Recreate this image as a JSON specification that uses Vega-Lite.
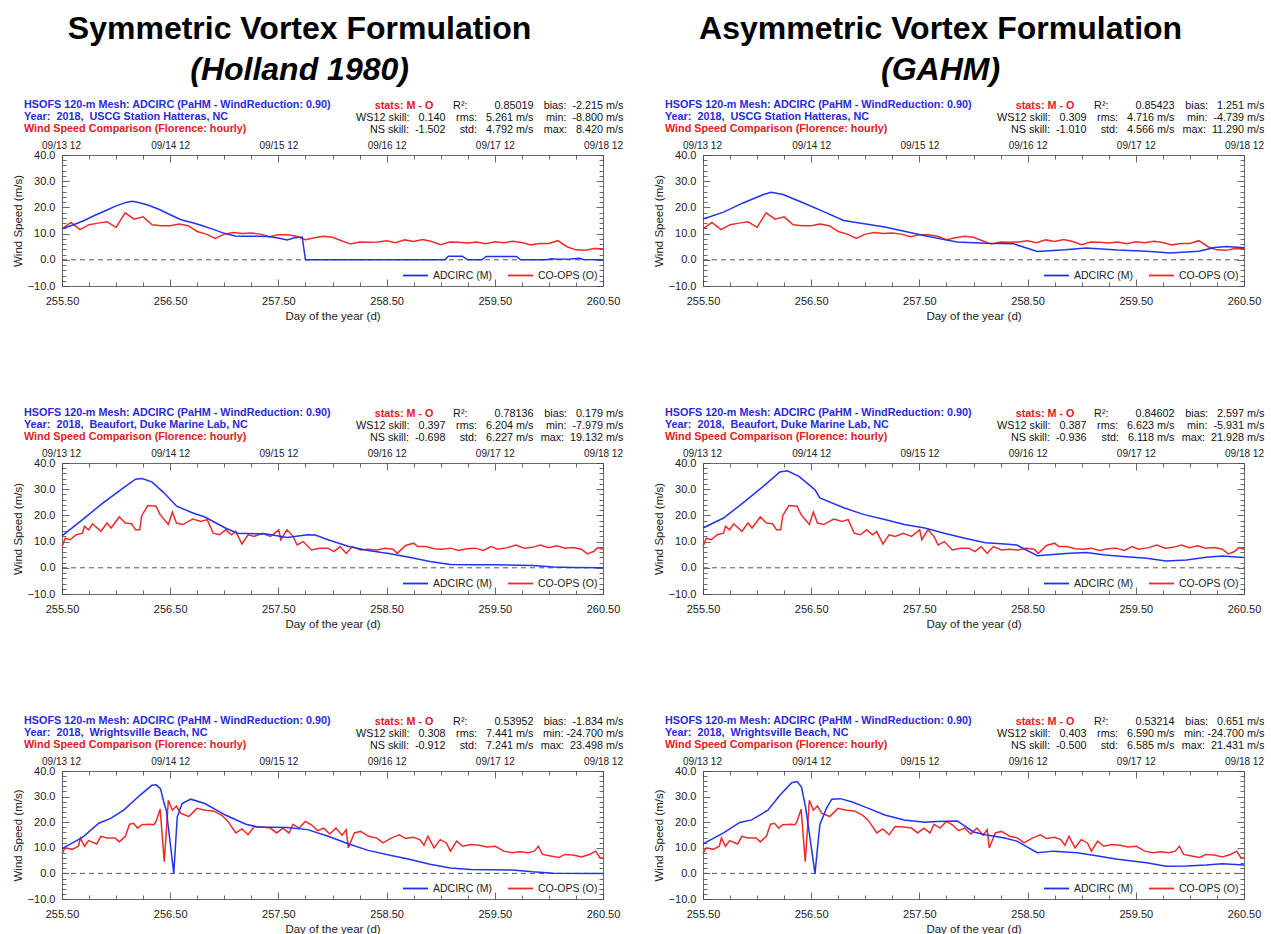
{
  "$schema": "https://vega.github.io/schema/vega-lite/v6.json",
  "padding": {"left": 12, "top": 13, "right": 4, "bottom": 0},
  "background": "white",
  "config": {
    "font": "Liberation Sans",
    "view": {"stroke": null},
    "axis": {"grid": false, "domainColor": "#444", "domainWidth": 0.8, "tickColor": "#444", "tickWidth": 0.8, "labelColor": "#222", "labelFont": "Liberation Sans", "titleFont": "Liberation Sans", "titleColor": "#222", "titleFontWeight": "normal", "labelOverlap": false},
    "title": {"font": "Liberation Sans", "subtitleFont": "Liberation Sans"},
    "legend": {"labelFont": "Liberation Sans"}
  },
  "datasets": {
    "obs_hat": [
      {"day": 255.500, "speed": 11.8}, {"day": 255.583, "speed": 14.3}, {"day": 255.667, "speed": 11.5}, {"day": 255.750, "speed": 13.4}, {"day": 255.833, "speed": 14.0}, {"day": 255.917, "speed": 14.5}, {"day": 256.000, "speed": 12.4}, {"day": 256.083, "speed": 17.9}, {"day": 256.167, "speed": 15.5}, {"day": 256.250, "speed": 16.4}, {"day": 256.333, "speed": 13.4}, {"day": 256.417, "speed": 13.0}, {"day": 256.500, "speed": 13.0}, {"day": 256.583, "speed": 13.7}, {"day": 256.667, "speed": 13.0}, {"day": 256.750, "speed": 10.8}, {"day": 256.833, "speed": 9.8}, {"day": 256.917, "speed": 8.2}, {"day": 257.000, "speed": 9.8}, {"day": 257.083, "speed": 10.4}, {"day": 257.167, "speed": 10.0}, {"day": 257.250, "speed": 10.2}, {"day": 257.333, "speed": 9.8}, {"day": 257.417, "speed": 8.8}, {"day": 257.500, "speed": 9.6}, {"day": 257.583, "speed": 9.6}, {"day": 257.667, "speed": 9.0}, {"day": 257.750, "speed": 7.7}, {"day": 257.833, "speed": 8.4}, {"day": 257.917, "speed": 9.0}, {"day": 258.000, "speed": 8.6}, {"day": 258.083, "speed": 7.3}, {"day": 258.167, "speed": 6.0}, {"day": 258.250, "speed": 6.8}, {"day": 258.333, "speed": 6.7}, {"day": 258.417, "speed": 6.8}, {"day": 258.500, "speed": 7.3}, {"day": 258.583, "speed": 6.5}, {"day": 258.667, "speed": 7.6}, {"day": 258.750, "speed": 7.0}, {"day": 258.833, "speed": 7.7}, {"day": 258.917, "speed": 7.0}, {"day": 259.000, "speed": 5.8}, {"day": 259.083, "speed": 6.8}, {"day": 259.167, "speed": 6.7}, {"day": 259.250, "speed": 6.4}, {"day": 259.333, "speed": 6.8}, {"day": 259.417, "speed": 6.1}, {"day": 259.500, "speed": 6.9}, {"day": 259.583, "speed": 6.5}, {"day": 259.667, "speed": 7.1}, {"day": 259.750, "speed": 6.6}, {"day": 259.833, "speed": 5.7}, {"day": 259.917, "speed": 6.2}, {"day": 260.000, "speed": 6.2}, {"day": 260.083, "speed": 7.3}, {"day": 260.167, "speed": 5.0}, {"day": 260.250, "speed": 3.8}, {"day": 260.333, "speed": 3.6}, {"day": 260.417, "speed": 4.3}, {"day": 260.500, "speed": 4.2}
    ],
    "m_hat_s": [
      {"day": 255.5, "speed": 11.8}, {"day": 255.6, "speed": 13.3}, {"day": 255.7, "speed": 14.9}, {"day": 255.8, "speed": 16.9}, {"day": 255.9, "speed": 18.7}, {"day": 256.0, "speed": 20.6}, {"day": 256.1, "speed": 22.0}, {"day": 256.15, "speed": 22.3}, {"day": 256.2, "speed": 22.0}, {"day": 256.3, "speed": 20.8}, {"day": 256.4, "speed": 19.2}, {"day": 256.5, "speed": 17.2}, {"day": 256.6, "speed": 15.3}, {"day": 256.7, "speed": 14.2}, {"day": 256.8, "speed": 13.0}, {"day": 256.9, "speed": 11.6}, {"day": 257.0, "speed": 10.1}, {"day": 257.1, "speed": 9.1}, {"day": 257.2, "speed": 9.0}, {"day": 257.3, "speed": 9.0}, {"day": 257.4, "speed": 8.9}, {"day": 257.5, "speed": 8.3}, {"day": 257.58, "speed": 7.6}, {"day": 257.65, "speed": 8.4}, {"day": 257.72, "speed": 8.7}, {"day": 257.75, "speed": 0.0}, {"day": 259.04, "speed": 0.0}, {"day": 259.07, "speed": 1.4}, {"day": 259.2, "speed": 1.4}, {"day": 259.25, "speed": 0.0}, {"day": 259.38, "speed": 0.0}, {"day": 259.42, "speed": 1.3}, {"day": 259.7, "speed": 1.3}, {"day": 259.74, "speed": 0.0}, {"day": 259.98, "speed": 0.0}, {"day": 260.02, "speed": 0.4}, {"day": 260.08, "speed": 0.2}, {"day": 260.2, "speed": 0.3}, {"day": 260.28, "speed": 0.6}, {"day": 260.32, "speed": 0.1}, {"day": 260.5, "speed": 0.0}
    ],
    "m_hat_a": [
      {"day": 255.5, "speed": 15.6}, {"day": 255.69, "speed": 18.2}, {"day": 255.87, "speed": 21.7}, {"day": 256.06, "speed": 24.9}, {"day": 256.13, "speed": 25.8}, {"day": 256.24, "speed": 24.9}, {"day": 256.43, "speed": 21.7}, {"day": 256.62, "speed": 18.3}, {"day": 256.8, "speed": 15.0}, {"day": 256.99, "speed": 13.8}, {"day": 257.18, "speed": 12.5}, {"day": 257.36, "speed": 10.9}, {"day": 257.55, "speed": 9.2}, {"day": 257.73, "speed": 7.7}, {"day": 257.85, "speed": 6.8}, {"day": 258.11, "speed": 6.3}, {"day": 258.37, "speed": 6.1}, {"day": 258.59, "speed": 3.2}, {"day": 258.85, "speed": 3.8}, {"day": 259.04, "speed": 4.5}, {"day": 259.33, "speed": 3.7}, {"day": 259.6, "speed": 3.3}, {"day": 259.82, "speed": 2.6}, {"day": 260.08, "speed": 3.3}, {"day": 260.23, "speed": 4.7}, {"day": 260.34, "speed": 5.1}, {"day": 260.5, "speed": 4.6}
    ],
    "obs_beau": [
      {"day": 255.500, "speed": 8.1}, {"day": 255.530, "speed": 11.3}, {"day": 255.576, "speed": 10.7}, {"day": 255.632, "speed": 12.6}, {"day": 255.689, "speed": 13.2}, {"day": 255.708, "speed": 15.8}, {"day": 255.746, "speed": 14.5}, {"day": 255.783, "speed": 16.8}, {"day": 255.859, "speed": 13.9}, {"day": 255.916, "speed": 17.1}, {"day": 255.954, "speed": 15.2}, {"day": 256.029, "speed": 19.4}, {"day": 256.086, "speed": 17.1}, {"day": 256.142, "speed": 16.8}, {"day": 256.180, "speed": 14.5}, {"day": 256.218, "speed": 14.5}, {"day": 256.237, "speed": 19.9}, {"day": 256.294, "speed": 23.8}, {"day": 256.369, "speed": 23.5}, {"day": 256.407, "speed": 20.3}, {"day": 256.483, "speed": 16.5}, {"day": 256.520, "speed": 21.3}, {"day": 256.558, "speed": 17.1}, {"day": 256.615, "speed": 16.5}, {"day": 256.709, "speed": 18.6}, {"day": 256.785, "speed": 17.7}, {"day": 256.842, "speed": 18.4}, {"day": 256.898, "speed": 13.2}, {"day": 256.955, "speed": 12.6}, {"day": 257.012, "speed": 14.5}, {"day": 257.068, "speed": 12.6}, {"day": 257.106, "speed": 13.9}, {"day": 257.163, "speed": 9.1}, {"day": 257.220, "speed": 12.6}, {"day": 257.276, "speed": 12.0}, {"day": 257.352, "speed": 13.2}, {"day": 257.427, "speed": 12.0}, {"day": 257.503, "speed": 14.5}, {"day": 257.522, "speed": 10.7}, {"day": 257.579, "speed": 14.5}, {"day": 257.635, "speed": 12.0}, {"day": 257.673, "speed": 8.7}, {"day": 257.730, "speed": 10.0}, {"day": 257.805, "speed": 6.8}, {"day": 257.881, "speed": 7.5}, {"day": 257.957, "speed": 7.5}, {"day": 258.013, "speed": 6.2}, {"day": 258.070, "speed": 8.1}, {"day": 258.127, "speed": 5.5}, {"day": 258.183, "speed": 8.1}, {"day": 258.259, "speed": 6.8}, {"day": 258.334, "speed": 7.1}, {"day": 258.410, "speed": 6.8}, {"day": 258.486, "speed": 7.5}, {"day": 258.561, "speed": 7.1}, {"day": 258.599, "speed": 5.5}, {"day": 258.675, "speed": 8.5}, {"day": 258.750, "speed": 9.4}, {"day": 258.788, "speed": 8.1}, {"day": 258.864, "speed": 8.1}, {"day": 258.939, "speed": 7.3}, {"day": 259.015, "speed": 7.1}, {"day": 259.090, "speed": 7.5}, {"day": 259.166, "speed": 6.6}, {"day": 259.241, "speed": 7.3}, {"day": 259.317, "speed": 7.5}, {"day": 259.393, "speed": 6.6}, {"day": 259.468, "speed": 8.1}, {"day": 259.525, "speed": 7.1}, {"day": 259.619, "speed": 7.7}, {"day": 259.695, "speed": 8.7}, {"day": 259.771, "speed": 7.5}, {"day": 259.846, "speed": 7.8}, {"day": 259.922, "speed": 8.7}, {"day": 259.997, "speed": 7.7}, {"day": 260.073, "speed": 8.4}, {"day": 260.148, "speed": 7.5}, {"day": 260.224, "speed": 7.7}, {"day": 260.300, "speed": 7.1}, {"day": 260.356, "speed": 5.3}, {"day": 260.413, "speed": 6.2}, {"day": 260.451, "speed": 7.7}, {"day": 260.500, "speed": 7.1}
    ],
    "m_beau_s": [
      {"day": 255.5, "speed": 12.2}, {"day": 255.69, "speed": 18.4}, {"day": 255.88, "speed": 24.8}, {"day": 256.07, "speed": 30.6}, {"day": 256.18, "speed": 33.8}, {"day": 256.24, "speed": 34.1}, {"day": 256.33, "speed": 32.8}, {"day": 256.44, "speed": 28.7}, {"day": 256.56, "speed": 23.5}, {"day": 256.71, "speed": 20.9}, {"day": 256.82, "speed": 19.4}, {"day": 257.01, "speed": 15.2}, {"day": 257.12, "speed": 13.2}, {"day": 257.39, "speed": 12.9}, {"day": 257.58, "speed": 11.6}, {"day": 257.77, "speed": 12.6}, {"day": 257.84, "speed": 12.5}, {"day": 257.96, "speed": 10.7}, {"day": 258.15, "speed": 8.1}, {"day": 258.33, "speed": 6.6}, {"day": 258.52, "speed": 5.5}, {"day": 258.71, "speed": 4.0}, {"day": 258.9, "speed": 2.4}, {"day": 259.09, "speed": 1.3}, {"day": 259.28, "speed": 1.2}, {"day": 259.47, "speed": 1.2}, {"day": 259.85, "speed": 0.9}, {"day": 260.04, "speed": 0.3}, {"day": 260.22, "speed": 0.1}, {"day": 260.5, "speed": 0.0}
    ],
    "m_beau_a": [
      {"day": 255.5, "speed": 15.2}, {"day": 255.69, "speed": 19.0}, {"day": 255.87, "speed": 24.8}, {"day": 256.06, "speed": 31.2}, {"day": 256.21, "speed": 36.6}, {"day": 256.28, "speed": 37.0}, {"day": 256.39, "speed": 34.8}, {"day": 256.5, "speed": 31.0}, {"day": 256.54, "speed": 29.5}, {"day": 256.58, "speed": 26.7}, {"day": 256.8, "speed": 22.9}, {"day": 256.99, "speed": 20.3}, {"day": 257.18, "speed": 18.4}, {"day": 257.36, "speed": 16.5}, {"day": 257.55, "speed": 15.2}, {"day": 257.73, "speed": 13.2}, {"day": 257.92, "speed": 11.3}, {"day": 258.11, "speed": 9.6}, {"day": 258.29, "speed": 9.1}, {"day": 258.4, "speed": 8.7}, {"day": 258.59, "speed": 4.6}, {"day": 258.85, "speed": 5.5}, {"day": 259.04, "speed": 5.8}, {"day": 259.22, "speed": 4.9}, {"day": 259.41, "speed": 4.2}, {"day": 259.6, "speed": 3.6}, {"day": 259.78, "speed": 2.6}, {"day": 259.97, "speed": 3.0}, {"day": 260.15, "speed": 4.0}, {"day": 260.3, "speed": 4.5}, {"day": 260.5, "speed": 3.9}
    ],
    "obs_wri": [
      {"day": 255.500, "speed": 7.8}, {"day": 255.530, "speed": 10.0}, {"day": 255.594, "speed": 9.4}, {"day": 255.651, "speed": 10.6}, {"day": 255.670, "speed": 13.8}, {"day": 255.708, "speed": 10.6}, {"day": 255.746, "speed": 12.8}, {"day": 255.821, "speed": 11.5}, {"day": 255.859, "speed": 14.5}, {"day": 255.916, "speed": 13.8}, {"day": 255.991, "speed": 13.8}, {"day": 256.029, "speed": 12.3}, {"day": 256.086, "speed": 14.5}, {"day": 256.124, "speed": 19.2}, {"day": 256.161, "speed": 19.6}, {"day": 256.199, "speed": 17.7}, {"day": 256.237, "speed": 19.0}, {"day": 256.313, "speed": 19.2}, {"day": 256.350, "speed": 19.0}, {"day": 256.369, "speed": 20.3}, {"day": 256.407, "speed": 25.1}, {"day": 256.445, "speed": 4.6}, {"day": 256.483, "speed": 28.6}, {"day": 256.520, "speed": 24.7}, {"day": 256.558, "speed": 26.3}, {"day": 256.596, "speed": 23.5}, {"day": 256.672, "speed": 22.2}, {"day": 256.747, "speed": 25.4}, {"day": 256.823, "speed": 24.7}, {"day": 256.898, "speed": 24.4}, {"day": 256.974, "speed": 22.8}, {"day": 257.031, "speed": 20.5}, {"day": 257.106, "speed": 15.8}, {"day": 257.163, "speed": 17.4}, {"day": 257.220, "speed": 15.1}, {"day": 257.276, "speed": 18.3}, {"day": 257.352, "speed": 18.1}, {"day": 257.427, "speed": 17.7}, {"day": 257.484, "speed": 15.8}, {"day": 257.541, "speed": 17.7}, {"day": 257.598, "speed": 15.8}, {"day": 257.635, "speed": 19.2}, {"day": 257.692, "speed": 17.7}, {"day": 257.749, "speed": 20.3}, {"day": 257.805, "speed": 19.0}, {"day": 257.862, "speed": 16.7}, {"day": 257.919, "speed": 17.7}, {"day": 257.975, "speed": 15.4}, {"day": 258.032, "speed": 17.7}, {"day": 258.089, "speed": 14.9}, {"day": 258.127, "speed": 17.1}, {"day": 258.146, "speed": 10.0}, {"day": 258.202, "speed": 15.8}, {"day": 258.259, "speed": 16.4}, {"day": 258.334, "speed": 14.5}, {"day": 258.410, "speed": 13.8}, {"day": 258.467, "speed": 11.9}, {"day": 258.542, "speed": 13.8}, {"day": 258.618, "speed": 15.1}, {"day": 258.675, "speed": 13.6}, {"day": 258.750, "speed": 14.1}, {"day": 258.807, "speed": 13.2}, {"day": 258.845, "speed": 11.0}, {"day": 258.882, "speed": 14.5}, {"day": 258.939, "speed": 10.0}, {"day": 258.996, "speed": 13.2}, {"day": 259.053, "speed": 11.9}, {"day": 259.090, "speed": 8.7}, {"day": 259.147, "speed": 12.6}, {"day": 259.204, "speed": 10.6}, {"day": 259.279, "speed": 11.3}, {"day": 259.355, "speed": 11.0}, {"day": 259.430, "speed": 10.3}, {"day": 259.506, "speed": 10.6}, {"day": 259.582, "speed": 8.7}, {"day": 259.657, "speed": 8.1}, {"day": 259.733, "speed": 8.5}, {"day": 259.808, "speed": 8.1}, {"day": 259.865, "speed": 8.7}, {"day": 259.903, "speed": 10.6}, {"day": 259.941, "speed": 7.4}, {"day": 260.016, "speed": 6.8}, {"day": 260.092, "speed": 6.2}, {"day": 260.148, "speed": 7.4}, {"day": 260.224, "speed": 7.2}, {"day": 260.300, "speed": 6.4}, {"day": 260.375, "speed": 7.4}, {"day": 260.432, "speed": 8.7}, {"day": 260.470, "speed": 6.2}, {"day": 260.500, "speed": 5.9}
    ],
    "m_wri_s": [
      {"day": 255.5, "speed": 9.7}, {"day": 255.69, "speed": 14.1}, {"day": 255.84, "speed": 19.6}, {"day": 255.95, "speed": 21.5}, {"day": 256.07, "speed": 24.7}, {"day": 256.22, "speed": 30.5}, {"day": 256.33, "speed": 34.4}, {"day": 256.37, "speed": 34.6}, {"day": 256.41, "speed": 33.1}, {"day": 256.44, "speed": 28.0}, {"day": 256.465, "speed": 24.5}, {"day": 256.533, "speed": 0.0}, {"day": 256.565, "speed": 22.0}, {"day": 256.61, "speed": 27.3}, {"day": 256.69, "speed": 29.0}, {"day": 256.82, "speed": 27.3}, {"day": 257.01, "speed": 22.8}, {"day": 257.2, "speed": 19.2}, {"day": 257.31, "speed": 18.1}, {"day": 257.58, "speed": 17.9}, {"day": 257.77, "speed": 17.1}, {"day": 257.96, "speed": 14.5}, {"day": 258.15, "speed": 11.5}, {"day": 258.33, "speed": 9.0}, {"day": 258.52, "speed": 7.2}, {"day": 258.71, "speed": 5.5}, {"day": 258.9, "speed": 3.6}, {"day": 259.09, "speed": 2.1}, {"day": 259.28, "speed": 1.5}, {"day": 259.66, "speed": 1.3}, {"day": 259.85, "speed": 0.6}, {"day": 260.04, "speed": 0.1}, {"day": 260.5, "speed": 0.0}
    ],
    "m_wri_a": [
      {"day": 255.5, "speed": 11.5}, {"day": 255.69, "speed": 15.8}, {"day": 255.84, "speed": 19.9}, {"day": 255.95, "speed": 20.9}, {"day": 256.1, "speed": 24.7}, {"day": 256.21, "speed": 30.5}, {"day": 256.32, "speed": 35.4}, {"day": 256.37, "speed": 35.9}, {"day": 256.41, "speed": 33.7}, {"day": 256.45, "speed": 25.4}, {"day": 256.535, "speed": 0.0}, {"day": 256.58, "speed": 19.0}, {"day": 256.64, "speed": 25.4}, {"day": 256.69, "speed": 29.0}, {"day": 256.77, "speed": 29.2}, {"day": 256.88, "speed": 27.9}, {"day": 257.03, "speed": 25.4}, {"day": 257.18, "speed": 22.8}, {"day": 257.36, "speed": 20.9}, {"day": 257.55, "speed": 20.0}, {"day": 257.66, "speed": 20.3}, {"day": 257.85, "speed": 20.5}, {"day": 258.0, "speed": 16.2}, {"day": 258.11, "speed": 15.1}, {"day": 258.29, "speed": 13.8}, {"day": 258.4, "speed": 12.6}, {"day": 258.59, "speed": 8.1}, {"day": 258.74, "speed": 8.7}, {"day": 258.96, "speed": 8.1}, {"day": 259.15, "speed": 6.8}, {"day": 259.33, "speed": 5.5}, {"day": 259.6, "speed": 4.2}, {"day": 259.78, "speed": 2.8}, {"day": 259.97, "speed": 2.9}, {"day": 260.15, "speed": 3.3}, {"day": 260.3, "speed": 3.8}, {"day": 260.5, "speed": 3.3}
    ]
  },
  "spacing": 30,
  "resolve": {"scale": {"color": "independent"}, "legend": {"color": "independent"}},
  "hconcat": [
    {
      "title": {"text": "Symmetric Vortex Formulation", "subtitle": "(Holland 1980)", "anchor": "middle", "dx": -18, "fontSize": 32, "subtitleFontSize": 32, "fontWeight": "bold", "subtitleFontWeight": "bold", "subtitleFontStyle": "italic", "color": "#000", "subtitleColor": "#000", "subtitlePadding": 9, "offset": 12},
      "spacing": 85,
      "resolve": {"scale": {"color": "independent"}, "legend": {"color": "independent"}},
      "vconcat": [
        {
          "width": 541, "height": 131,
          "title": {"text": ["HSOFS 120-m Mesh: ADCIRC (PaHM - WindReduction: 0.90)", "Year:\u00a0 2018,\u00a0 USCG Station Hatteras, NC"], "subtitle": "Wind Speed Comparison (Florence: hourly)", "anchor": "start", "frame": "group", "dx": -38, "dy": 35, "offset": 0, "color": "#2a2ad8", "subtitleColor": "#e0201e", "fontSize": 10.8, "subtitleFontSize": 10.8, "fontWeight": "bold", "subtitleFontWeight": "bold", "lineHeight": 12, "subtitleLineHeight": 12, "subtitlePadding": 1},
          "resolve": {"axis": {"x": "independent", "y": "independent"}},
          "layer": [
            {"data": {"values": [{}]}, "mark": {"type": "rule", "strokeDash": [5, 4], "color": "#555", "strokeWidth": 1},
             "encoding": {
               "x": {"datum": 255.5, "type": "quantitative", "scale": {"domain": [255.5, 260.5], "nice": false, "zero": false}, "axis": {"orient": "top", "labels": false, "ticks": false, "domain": false, "title": ["R²:\u00a0\u00a0\u00a0\u00a0\u00a0\u00a0\u00a0\u00a0\u00a00.85019", "rms:\u00a0\u00a0\u00a05.261 m/s", "std:\u00a0\u00a0\u00a04.792 m/s"], "titleX": 471, "titleY": -56, "titleAlign": "right", "titleBaseline": "top", "titleAngle": 0, "titleFontSize": 10.8, "titleLineHeight": 12, "titleColor": "#111"}},
               "x2": {"datum": 260.5},
               "y": {"datum": 0, "type": "quantitative", "scale": {"domain": [-10, 40], "nice": false, "zero": false}, "axis": {"orient": "left", "labels": false, "ticks": false, "domain": false, "title": ["WS12 skill:\u00a0\u00a0\u00a00.140", "NS skill:\u00a0\u00a0-1.502"], "titleX": 383, "titleY": -44, "titleAlign": "right", "titleBaseline": "top", "titleAngle": 0, "titleFontSize": 10.8, "titleLineHeight": 12, "titleColor": "#111"}}
             }},
            {"data": {"name": "obs_hat"}, "mark": {"type": "line", "strokeWidth": 1.5},
             "encoding": {
               "x": {"field": "day", "type": "quantitative", "scale": {"domain": [255.5, 260.5], "nice": false, "zero": false}, "axis": {"orient": "bottom", "values": [255.5,255.75,256,256.25,256.5,256.75,257,257.25,257.5,257.75,258,258.25,258.5,258.75,259,259.25,259.5,259.75,260,260.25,260.5], "labelExpr": "(datum.value - 255.5) % 1 == 0 ? format(datum.value, '.2f') : ''", "tickSize": {"condition": {"test": "(datum.value - 255.5) % 1 == 0", "value": -7}, "value": -4}, "labelPadding": 16, "labelFontSize": 11, "labelFlush": false, "labelAlign": "center", "title": "Day of the year (d)", "titleFontSize": 11.5, "titlePadding": 1}},
               "y": {"field": "speed", "type": "quantitative", "scale": {"domain": [-10, 40], "nice": false, "zero": false}, "axis": {"orient": "left", "values": [-10,-8,-6,-4,-2,0,2,4,6,8,10,12,14,16,18,20,22,24,26,28,30,32,34,36,38,40], "labelExpr": "datum.value % 10 == 0 ? format(datum.value, '.1f') : ''", "tickSize": {"condition": {"test": "datum.value % 10 == 0", "value": -7}, "value": -4}, "labelPadding": 14, "labelFontSize": 11, "labelFlush": false, "title": "Wind Speed (m/s)", "titleFontSize": 11.5, "titlePadding": 4}},
               "color": {"datum": "CO-OPS (O)", "scale": {"domain": ["ADCIRC (M)", "CO-OPS (O)"], "range": ["#2233ee", "#ee2a2a"]}, "legend": {"title": null, "orient": "bottom-right", "direction": "horizontal", "symbolType": "stroke", "symbolSize": 625, "symbolStrokeWidth": 1.8, "labelFontSize": 10.5, "labelColor": "#222", "offset": 5, "padding": 0, "columnPadding": 12, "labelOffset": 4}}
             }},
            {"data": {"name": "m_hat_s"}, "mark": {"type": "line", "strokeWidth": 1.5},
             "encoding": {
               "x": {"field": "day", "type": "quantitative", "scale": {"domain": [255.5, 260.5], "nice": false, "zero": false}, "axis": {"orient": "top", "values": [255.5,255.75,256,256.25,256.5,256.75,257,257.25,257.5,257.75,258,258.25,258.5,258.75,259,259.25,259.5,259.75,260,260.25,260.5], "labelExpr": "(datum.value - 255.5) % 1 == 0 ? '09/' + (13 + round(datum.value - 255.5)) + ' 12' : ''", "tickSize": {"condition": {"test": "(datum.value - 255.5) % 1 == 0", "value": -7}, "value": -4}, "labelPadding": 12, "labelFontSize": 10, "labelFlush": false, "labelAlign": "center", "labelOffset": {"condition": {"test": "datum.value < 255.6", "value": -1}, "value": 0}, "title": ["bias:\u00a0\u00a0-2.215 m/s", "min:\u00a0\u00a0-8.800 m/s", "max:\u00a0\u00a0\u00a08.420 m/s"], "titleX": 561, "titleY": -56, "titleAlign": "right", "titleBaseline": "top", "titleAngle": 0, "titleFontSize": 10.8, "titleLineHeight": 12, "titleColor": "#111"}},
               "y": {"field": "speed", "type": "quantitative", "scale": {"domain": [-10, 40], "nice": false, "zero": false}, "axis": {"orient": "right", "values": [-10,-8,-6,-4,-2,0,2,4,6,8,10,12,14,16,18,20,22,24,26,28,30,32,34,36,38,40], "labels": false, "tickSize": {"condition": {"test": "datum.value % 10 == 0", "value": -7}, "value": -4}, "title": "stats: M - O", "titleX": -170, "titleY": -56, "titleAlign": "right", "titleBaseline": "top", "titleAngle": 0, "titleFontSize": 10.8, "titleFontWeight": "bold", "titleColor": "#e0201e"}},
               "color": {"datum": "ADCIRC (M)", "scale": {"domain": ["ADCIRC (M)", "CO-OPS (O)"], "range": ["#2233ee", "#ee2a2a"]}, "legend": {"title": null, "orient": "bottom-right", "direction": "horizontal", "symbolType": "stroke", "symbolSize": 625, "symbolStrokeWidth": 1.8, "labelFontSize": 10.5, "labelColor": "#222", "offset": 5, "padding": 0, "columnPadding": 12, "labelOffset": 4}}
             }}
          ]
        },
        {
          "width": 541, "height": 131,
          "title": {"text": ["HSOFS 120-m Mesh: ADCIRC (PaHM - WindReduction: 0.90)", "Year:\u00a0 2018,\u00a0 Beaufort, Duke Marine Lab, NC"], "subtitle": "Wind Speed Comparison (Florence: hourly)", "anchor": "start", "frame": "group", "dx": -38, "dy": 35, "offset": 0, "color": "#2a2ad8", "subtitleColor": "#e0201e", "fontSize": 10.8, "subtitleFontSize": 10.8, "fontWeight": "bold", "subtitleFontWeight": "bold", "lineHeight": 12, "subtitleLineHeight": 12, "subtitlePadding": 1},
          "resolve": {"axis": {"x": "independent", "y": "independent"}},
          "layer": [
            {"data": {"values": [{}]}, "mark": {"type": "rule", "strokeDash": [5, 4], "color": "#555", "strokeWidth": 1},
             "encoding": {
               "x": {"datum": 255.5, "type": "quantitative", "scale": {"domain": [255.5, 260.5], "nice": false, "zero": false}, "axis": {"orient": "top", "labels": false, "ticks": false, "domain": false, "title": ["R²:\u00a0\u00a0\u00a0\u00a0\u00a0\u00a0\u00a0\u00a0\u00a00.78136", "rms:\u00a0\u00a0\u00a06.204 m/s", "std:\u00a0\u00a0\u00a06.227 m/s"], "titleX": 471, "titleY": -56, "titleAlign": "right", "titleBaseline": "top", "titleAngle": 0, "titleFontSize": 10.8, "titleLineHeight": 12, "titleColor": "#111"}},
               "x2": {"datum": 260.5},
               "y": {"datum": 0, "type": "quantitative", "scale": {"domain": [-10, 40], "nice": false, "zero": false}, "axis": {"orient": "left", "labels": false, "ticks": false, "domain": false, "title": ["WS12 skill:\u00a0\u00a0\u00a00.397", "NS skill:\u00a0\u00a0-0.698"], "titleX": 383, "titleY": -44, "titleAlign": "right", "titleBaseline": "top", "titleAngle": 0, "titleFontSize": 10.8, "titleLineHeight": 12, "titleColor": "#111"}}
             }},
            {"data": {"name": "obs_beau"}, "mark": {"type": "line", "strokeWidth": 1.5},
             "encoding": {
               "x": {"field": "day", "type": "quantitative", "scale": {"domain": [255.5, 260.5], "nice": false, "zero": false}, "axis": {"orient": "bottom", "values": [255.5,255.75,256,256.25,256.5,256.75,257,257.25,257.5,257.75,258,258.25,258.5,258.75,259,259.25,259.5,259.75,260,260.25,260.5], "labelExpr": "(datum.value - 255.5) % 1 == 0 ? format(datum.value, '.2f') : ''", "tickSize": {"condition": {"test": "(datum.value - 255.5) % 1 == 0", "value": -7}, "value": -4}, "labelPadding": 16, "labelFontSize": 11, "labelFlush": false, "labelAlign": "center", "title": "Day of the year (d)", "titleFontSize": 11.5, "titlePadding": 1}},
               "y": {"field": "speed", "type": "quantitative", "scale": {"domain": [-10, 40], "nice": false, "zero": false}, "axis": {"orient": "left", "values": [-10,-8,-6,-4,-2,0,2,4,6,8,10,12,14,16,18,20,22,24,26,28,30,32,34,36,38,40], "labelExpr": "datum.value % 10 == 0 ? format(datum.value, '.1f') : ''", "tickSize": {"condition": {"test": "datum.value % 10 == 0", "value": -7}, "value": -4}, "labelPadding": 14, "labelFontSize": 11, "labelFlush": false, "title": "Wind Speed (m/s)", "titleFontSize": 11.5, "titlePadding": 4}},
               "color": {"datum": "CO-OPS (O)", "scale": {"domain": ["ADCIRC (M)", "CO-OPS (O)"], "range": ["#2233ee", "#ee2a2a"]}, "legend": {"title": null, "orient": "bottom-right", "direction": "horizontal", "symbolType": "stroke", "symbolSize": 625, "symbolStrokeWidth": 1.8, "labelFontSize": 10.5, "labelColor": "#222", "offset": 5, "padding": 0, "columnPadding": 12, "labelOffset": 4}}
             }},
            {"data": {"name": "m_beau_s"}, "mark": {"type": "line", "strokeWidth": 1.5},
             "encoding": {
               "x": {"field": "day", "type": "quantitative", "scale": {"domain": [255.5, 260.5], "nice": false, "zero": false}, "axis": {"orient": "top", "values": [255.5,255.75,256,256.25,256.5,256.75,257,257.25,257.5,257.75,258,258.25,258.5,258.75,259,259.25,259.5,259.75,260,260.25,260.5], "labelExpr": "(datum.value - 255.5) % 1 == 0 ? '09/' + (13 + round(datum.value - 255.5)) + ' 12' : ''", "tickSize": {"condition": {"test": "(datum.value - 255.5) % 1 == 0", "value": -7}, "value": -4}, "labelPadding": 12, "labelFontSize": 10, "labelFlush": false, "labelAlign": "center", "labelOffset": {"condition": {"test": "datum.value < 255.6", "value": -1}, "value": 0}, "title": ["bias:\u00a0\u00a0\u00a00.179 m/s", "min:\u00a0\u00a0-7.979 m/s", "max:\u00a0\u00a019.132 m/s"], "titleX": 561, "titleY": -56, "titleAlign": "right", "titleBaseline": "top", "titleAngle": 0, "titleFontSize": 10.8, "titleLineHeight": 12, "titleColor": "#111"}},
               "y": {"field": "speed", "type": "quantitative", "scale": {"domain": [-10, 40], "nice": false, "zero": false}, "axis": {"orient": "right", "values": [-10,-8,-6,-4,-2,0,2,4,6,8,10,12,14,16,18,20,22,24,26,28,30,32,34,36,38,40], "labels": false, "tickSize": {"condition": {"test": "datum.value % 10 == 0", "value": -7}, "value": -4}, "title": "stats: M - O", "titleX": -170, "titleY": -56, "titleAlign": "right", "titleBaseline": "top", "titleAngle": 0, "titleFontSize": 10.8, "titleFontWeight": "bold", "titleColor": "#e0201e"}},
               "color": {"datum": "ADCIRC (M)", "scale": {"domain": ["ADCIRC (M)", "CO-OPS (O)"], "range": ["#2233ee", "#ee2a2a"]}, "legend": {"title": null, "orient": "bottom-right", "direction": "horizontal", "symbolType": "stroke", "symbolSize": 625, "symbolStrokeWidth": 1.8, "labelFontSize": 10.5, "labelColor": "#222", "offset": 5, "padding": 0, "columnPadding": 12, "labelOffset": 4}}
             }}
          ]
        },
        {
          "width": 541, "height": 128,
          "title": {"text": ["HSOFS 120-m Mesh: ADCIRC (PaHM - WindReduction: 0.90)", "Year:\u00a0 2018,\u00a0 Wrightsville Beach, NC"], "subtitle": "Wind Speed Comparison (Florence: hourly)", "anchor": "start", "frame": "group", "dx": -38, "dy": 35, "offset": 0, "color": "#2a2ad8", "subtitleColor": "#e0201e", "fontSize": 10.8, "subtitleFontSize": 10.8, "fontWeight": "bold", "subtitleFontWeight": "bold", "lineHeight": 12, "subtitleLineHeight": 12, "subtitlePadding": 1},
          "resolve": {"axis": {"x": "independent", "y": "independent"}},
          "layer": [
            {"data": {"values": [{}]}, "mark": {"type": "rule", "strokeDash": [5, 4], "color": "#555", "strokeWidth": 1},
             "encoding": {
               "x": {"datum": 255.5, "type": "quantitative", "scale": {"domain": [255.5, 260.5], "nice": false, "zero": false}, "axis": {"orient": "top", "labels": false, "ticks": false, "domain": false, "title": ["R²:\u00a0\u00a0\u00a0\u00a0\u00a0\u00a0\u00a0\u00a0\u00a00.53952", "rms:\u00a0\u00a0\u00a07.441 m/s", "std:\u00a0\u00a0\u00a07.241 m/s"], "titleX": 471, "titleY": -56, "titleAlign": "right", "titleBaseline": "top", "titleAngle": 0, "titleFontSize": 10.8, "titleLineHeight": 12, "titleColor": "#111"}},
               "x2": {"datum": 260.5},
               "y": {"datum": 0, "type": "quantitative", "scale": {"domain": [-10, 40], "nice": false, "zero": false}, "axis": {"orient": "left", "labels": false, "ticks": false, "domain": false, "title": ["WS12 skill:\u00a0\u00a0\u00a00.308", "NS skill:\u00a0\u00a0-0.912"], "titleX": 383, "titleY": -44, "titleAlign": "right", "titleBaseline": "top", "titleAngle": 0, "titleFontSize": 10.8, "titleLineHeight": 12, "titleColor": "#111"}}
             }},
            {"data": {"name": "obs_wri"}, "mark": {"type": "line", "strokeWidth": 1.5},
             "encoding": {
               "x": {"field": "day", "type": "quantitative", "scale": {"domain": [255.5, 260.5], "nice": false, "zero": false}, "axis": {"orient": "bottom", "values": [255.5,255.75,256,256.25,256.5,256.75,257,257.25,257.5,257.75,258,258.25,258.5,258.75,259,259.25,259.5,259.75,260,260.25,260.5], "labelExpr": "(datum.value - 255.5) % 1 == 0 ? format(datum.value, '.2f') : ''", "tickSize": {"condition": {"test": "(datum.value - 255.5) % 1 == 0", "value": -7}, "value": -4}, "labelPadding": 16, "labelFontSize": 11, "labelFlush": false, "labelAlign": "center", "title": "Day of the year (d)", "titleFontSize": 11.5, "titlePadding": 1}},
               "y": {"field": "speed", "type": "quantitative", "scale": {"domain": [-10, 40], "nice": false, "zero": false}, "axis": {"orient": "left", "values": [-10,-8,-6,-4,-2,0,2,4,6,8,10,12,14,16,18,20,22,24,26,28,30,32,34,36,38,40], "labelExpr": "datum.value % 10 == 0 ? format(datum.value, '.1f') : ''", "tickSize": {"condition": {"test": "datum.value % 10 == 0", "value": -7}, "value": -4}, "labelPadding": 14, "labelFontSize": 11, "labelFlush": false, "title": "Wind Speed (m/s)", "titleFontSize": 11.5, "titlePadding": 4}},
               "color": {"datum": "CO-OPS (O)", "scale": {"domain": ["ADCIRC (M)", "CO-OPS (O)"], "range": ["#2233ee", "#ee2a2a"]}, "legend": {"title": null, "orient": "bottom-right", "direction": "horizontal", "symbolType": "stroke", "symbolSize": 625, "symbolStrokeWidth": 1.8, "labelFontSize": 10.5, "labelColor": "#222", "offset": 5, "padding": 0, "columnPadding": 12, "labelOffset": 4}}
             }},
            {"data": {"name": "m_wri_s"}, "mark": {"type": "line", "strokeWidth": 1.5},
             "encoding": {
               "x": {"field": "day", "type": "quantitative", "scale": {"domain": [255.5, 260.5], "nice": false, "zero": false}, "axis": {"orient": "top", "values": [255.5,255.75,256,256.25,256.5,256.75,257,257.25,257.5,257.75,258,258.25,258.5,258.75,259,259.25,259.5,259.75,260,260.25,260.5], "labelExpr": "(datum.value - 255.5) % 1 == 0 ? '09/' + (13 + round(datum.value - 255.5)) + ' 12' : ''", "tickSize": {"condition": {"test": "(datum.value - 255.5) % 1 == 0", "value": -7}, "value": -4}, "labelPadding": 12, "labelFontSize": 10, "labelFlush": false, "labelAlign": "center", "labelOffset": {"condition": {"test": "datum.value < 255.6", "value": -1}, "value": 0}, "title": ["bias:\u00a0\u00a0-1.834 m/s", "min:\u00a0-24.700 m/s", "max:\u00a0\u00a023.498 m/s"], "titleX": 561, "titleY": -56, "titleAlign": "right", "titleBaseline": "top", "titleAngle": 0, "titleFontSize": 10.8, "titleLineHeight": 12, "titleColor": "#111"}},
               "y": {"field": "speed", "type": "quantitative", "scale": {"domain": [-10, 40], "nice": false, "zero": false}, "axis": {"orient": "right", "values": [-10,-8,-6,-4,-2,0,2,4,6,8,10,12,14,16,18,20,22,24,26,28,30,32,34,36,38,40], "labels": false, "tickSize": {"condition": {"test": "datum.value % 10 == 0", "value": -7}, "value": -4}, "title": "stats: M - O", "titleX": -170, "titleY": -56, "titleAlign": "right", "titleBaseline": "top", "titleAngle": 0, "titleFontSize": 10.8, "titleFontWeight": "bold", "titleColor": "#e0201e"}},
               "color": {"datum": "ADCIRC (M)", "scale": {"domain": ["ADCIRC (M)", "CO-OPS (O)"], "range": ["#2233ee", "#ee2a2a"]}, "legend": {"title": null, "orient": "bottom-right", "direction": "horizontal", "symbolType": "stroke", "symbolSize": 625, "symbolStrokeWidth": 1.8, "labelFontSize": 10.5, "labelColor": "#222", "offset": 5, "padding": 0, "columnPadding": 12, "labelOffset": 4}}
             }}
          ]
        }
      ]
    },
    {
      "title": {"text": "Asymmetric Vortex Formulation", "subtitle": "(GAHM)", "anchor": "middle", "dx": -18, "fontSize": 32, "subtitleFontSize": 32, "fontWeight": "bold", "subtitleFontWeight": "bold", "subtitleFontStyle": "italic", "color": "#000", "subtitleColor": "#000", "subtitlePadding": 9, "offset": 12},
      "spacing": 85,
      "resolve": {"scale": {"color": "independent"}, "legend": {"color": "independent"}},
      "vconcat": [
        {
          "width": 541, "height": 131,
          "title": {"text": ["HSOFS 120-m Mesh: ADCIRC (PaHM - WindReduction: 0.90)", "Year:\u00a0 2018,\u00a0 USCG Station Hatteras, NC"], "subtitle": "Wind Speed Comparison (Florence: hourly)", "anchor": "start", "frame": "group", "dx": -38, "dy": 35, "offset": 0, "color": "#2a2ad8", "subtitleColor": "#e0201e", "fontSize": 10.8, "subtitleFontSize": 10.8, "fontWeight": "bold", "subtitleFontWeight": "bold", "lineHeight": 12, "subtitleLineHeight": 12, "subtitlePadding": 1},
          "resolve": {"axis": {"x": "independent", "y": "independent"}},
          "layer": [
            {"data": {"values": [{}]}, "mark": {"type": "rule", "strokeDash": [5, 4], "color": "#555", "strokeWidth": 1},
             "encoding": {
               "x": {"datum": 255.5, "type": "quantitative", "scale": {"domain": [255.5, 260.5], "nice": false, "zero": false}, "axis": {"orient": "top", "labels": false, "ticks": false, "domain": false, "title": ["R²:\u00a0\u00a0\u00a0\u00a0\u00a0\u00a0\u00a0\u00a0\u00a00.85423", "rms:\u00a0\u00a0\u00a04.716 m/s", "std:\u00a0\u00a0\u00a04.566 m/s"], "titleX": 471, "titleY": -56, "titleAlign": "right", "titleBaseline": "top", "titleAngle": 0, "titleFontSize": 10.8, "titleLineHeight": 12, "titleColor": "#111"}},
               "x2": {"datum": 260.5},
               "y": {"datum": 0, "type": "quantitative", "scale": {"domain": [-10, 40], "nice": false, "zero": false}, "axis": {"orient": "left", "labels": false, "ticks": false, "domain": false, "title": ["WS12 skill:\u00a0\u00a0\u00a00.309", "NS skill:\u00a0\u00a0-1.010"], "titleX": 383, "titleY": -44, "titleAlign": "right", "titleBaseline": "top", "titleAngle": 0, "titleFontSize": 10.8, "titleLineHeight": 12, "titleColor": "#111"}}
             }},
            {"data": {"name": "obs_hat"}, "mark": {"type": "line", "strokeWidth": 1.5},
             "encoding": {
               "x": {"field": "day", "type": "quantitative", "scale": {"domain": [255.5, 260.5], "nice": false, "zero": false}, "axis": {"orient": "bottom", "values": [255.5,255.75,256,256.25,256.5,256.75,257,257.25,257.5,257.75,258,258.25,258.5,258.75,259,259.25,259.5,259.75,260,260.25,260.5], "labelExpr": "(datum.value - 255.5) % 1 == 0 ? format(datum.value, '.2f') : ''", "tickSize": {"condition": {"test": "(datum.value - 255.5) % 1 == 0", "value": -7}, "value": -4}, "labelPadding": 16, "labelFontSize": 11, "labelFlush": false, "labelAlign": "center", "title": "Day of the year (d)", "titleFontSize": 11.5, "titlePadding": 1}},
               "y": {"field": "speed", "type": "quantitative", "scale": {"domain": [-10, 40], "nice": false, "zero": false}, "axis": {"orient": "left", "values": [-10,-8,-6,-4,-2,0,2,4,6,8,10,12,14,16,18,20,22,24,26,28,30,32,34,36,38,40], "labelExpr": "datum.value % 10 == 0 ? format(datum.value, '.1f') : ''", "tickSize": {"condition": {"test": "datum.value % 10 == 0", "value": -7}, "value": -4}, "labelPadding": 14, "labelFontSize": 11, "labelFlush": false, "title": "Wind Speed (m/s)", "titleFontSize": 11.5, "titlePadding": 4}},
               "color": {"datum": "CO-OPS (O)", "scale": {"domain": ["ADCIRC (M)", "CO-OPS (O)"], "range": ["#2233ee", "#ee2a2a"]}, "legend": {"title": null, "orient": "bottom-right", "direction": "horizontal", "symbolType": "stroke", "symbolSize": 625, "symbolStrokeWidth": 1.8, "labelFontSize": 10.5, "labelColor": "#222", "offset": 5, "padding": 0, "columnPadding": 12, "labelOffset": 4}}
             }},
            {"data": {"name": "m_hat_a"}, "mark": {"type": "line", "strokeWidth": 1.5},
             "encoding": {
               "x": {"field": "day", "type": "quantitative", "scale": {"domain": [255.5, 260.5], "nice": false, "zero": false}, "axis": {"orient": "top", "values": [255.5,255.75,256,256.25,256.5,256.75,257,257.25,257.5,257.75,258,258.25,258.5,258.75,259,259.25,259.5,259.75,260,260.25,260.5], "labelExpr": "(datum.value - 255.5) % 1 == 0 ? '09/' + (13 + round(datum.value - 255.5)) + ' 12' : ''", "tickSize": {"condition": {"test": "(datum.value - 255.5) % 1 == 0", "value": -7}, "value": -4}, "labelPadding": 12, "labelFontSize": 10, "labelFlush": false, "labelAlign": "center", "labelOffset": {"condition": {"test": "datum.value < 255.6", "value": -1}, "value": 0}, "title": ["bias:\u00a0\u00a0\u00a01.251 m/s", "min:\u00a0\u00a0-4.739 m/s", "max:\u00a0\u00a011.290 m/s"], "titleX": 561, "titleY": -56, "titleAlign": "right", "titleBaseline": "top", "titleAngle": 0, "titleFontSize": 10.8, "titleLineHeight": 12, "titleColor": "#111"}},
               "y": {"field": "speed", "type": "quantitative", "scale": {"domain": [-10, 40], "nice": false, "zero": false}, "axis": {"orient": "right", "values": [-10,-8,-6,-4,-2,0,2,4,6,8,10,12,14,16,18,20,22,24,26,28,30,32,34,36,38,40], "labels": false, "tickSize": {"condition": {"test": "datum.value % 10 == 0", "value": -7}, "value": -4}, "title": "stats: M - O", "titleX": -170, "titleY": -56, "titleAlign": "right", "titleBaseline": "top", "titleAngle": 0, "titleFontSize": 10.8, "titleFontWeight": "bold", "titleColor": "#e0201e"}},
               "color": {"datum": "ADCIRC (M)", "scale": {"domain": ["ADCIRC (M)", "CO-OPS (O)"], "range": ["#2233ee", "#ee2a2a"]}, "legend": {"title": null, "orient": "bottom-right", "direction": "horizontal", "symbolType": "stroke", "symbolSize": 625, "symbolStrokeWidth": 1.8, "labelFontSize": 10.5, "labelColor": "#222", "offset": 5, "padding": 0, "columnPadding": 12, "labelOffset": 4}}
             }}
          ]
        },
        {
          "width": 541, "height": 131,
          "title": {"text": ["HSOFS 120-m Mesh: ADCIRC (PaHM - WindReduction: 0.90)", "Year:\u00a0 2018,\u00a0 Beaufort, Duke Marine Lab, NC"], "subtitle": "Wind Speed Comparison (Florence: hourly)", "anchor": "start", "frame": "group", "dx": -38, "dy": 35, "offset": 0, "color": "#2a2ad8", "subtitleColor": "#e0201e", "fontSize": 10.8, "subtitleFontSize": 10.8, "fontWeight": "bold", "subtitleFontWeight": "bold", "lineHeight": 12, "subtitleLineHeight": 12, "subtitlePadding": 1},
          "resolve": {"axis": {"x": "independent", "y": "independent"}},
          "layer": [
            {"data": {"values": [{}]}, "mark": {"type": "rule", "strokeDash": [5, 4], "color": "#555", "strokeWidth": 1},
             "encoding": {
               "x": {"datum": 255.5, "type": "quantitative", "scale": {"domain": [255.5, 260.5], "nice": false, "zero": false}, "axis": {"orient": "top", "labels": false, "ticks": false, "domain": false, "title": ["R²:\u00a0\u00a0\u00a0\u00a0\u00a0\u00a0\u00a0\u00a0\u00a00.84602", "rms:\u00a0\u00a0\u00a06.623 m/s", "std:\u00a0\u00a0\u00a06.118 m/s"], "titleX": 471, "titleY": -56, "titleAlign": "right", "titleBaseline": "top", "titleAngle": 0, "titleFontSize": 10.8, "titleLineHeight": 12, "titleColor": "#111"}},
               "x2": {"datum": 260.5},
               "y": {"datum": 0, "type": "quantitative", "scale": {"domain": [-10, 40], "nice": false, "zero": false}, "axis": {"orient": "left", "labels": false, "ticks": false, "domain": false, "title": ["WS12 skill:\u00a0\u00a0\u00a00.387", "NS skill:\u00a0\u00a0-0.936"], "titleX": 383, "titleY": -44, "titleAlign": "right", "titleBaseline": "top", "titleAngle": 0, "titleFontSize": 10.8, "titleLineHeight": 12, "titleColor": "#111"}}
             }},
            {"data": {"name": "obs_beau"}, "mark": {"type": "line", "strokeWidth": 1.5},
             "encoding": {
               "x": {"field": "day", "type": "quantitative", "scale": {"domain": [255.5, 260.5], "nice": false, "zero": false}, "axis": {"orient": "bottom", "values": [255.5,255.75,256,256.25,256.5,256.75,257,257.25,257.5,257.75,258,258.25,258.5,258.75,259,259.25,259.5,259.75,260,260.25,260.5], "labelExpr": "(datum.value - 255.5) % 1 == 0 ? format(datum.value, '.2f') : ''", "tickSize": {"condition": {"test": "(datum.value - 255.5) % 1 == 0", "value": -7}, "value": -4}, "labelPadding": 16, "labelFontSize": 11, "labelFlush": false, "labelAlign": "center", "title": "Day of the year (d)", "titleFontSize": 11.5, "titlePadding": 1}},
               "y": {"field": "speed", "type": "quantitative", "scale": {"domain": [-10, 40], "nice": false, "zero": false}, "axis": {"orient": "left", "values": [-10,-8,-6,-4,-2,0,2,4,6,8,10,12,14,16,18,20,22,24,26,28,30,32,34,36,38,40], "labelExpr": "datum.value % 10 == 0 ? format(datum.value, '.1f') : ''", "tickSize": {"condition": {"test": "datum.value % 10 == 0", "value": -7}, "value": -4}, "labelPadding": 14, "labelFontSize": 11, "labelFlush": false, "title": "Wind Speed (m/s)", "titleFontSize": 11.5, "titlePadding": 4}},
               "color": {"datum": "CO-OPS (O)", "scale": {"domain": ["ADCIRC (M)", "CO-OPS (O)"], "range": ["#2233ee", "#ee2a2a"]}, "legend": {"title": null, "orient": "bottom-right", "direction": "horizontal", "symbolType": "stroke", "symbolSize": 625, "symbolStrokeWidth": 1.8, "labelFontSize": 10.5, "labelColor": "#222", "offset": 5, "padding": 0, "columnPadding": 12, "labelOffset": 4}}
             }},
            {"data": {"name": "m_beau_a"}, "mark": {"type": "line", "strokeWidth": 1.5},
             "encoding": {
               "x": {"field": "day", "type": "quantitative", "scale": {"domain": [255.5, 260.5], "nice": false, "zero": false}, "axis": {"orient": "top", "values": [255.5,255.75,256,256.25,256.5,256.75,257,257.25,257.5,257.75,258,258.25,258.5,258.75,259,259.25,259.5,259.75,260,260.25,260.5], "labelExpr": "(datum.value - 255.5) % 1 == 0 ? '09/' + (13 + round(datum.value - 255.5)) + ' 12' : ''", "tickSize": {"condition": {"test": "(datum.value - 255.5) % 1 == 0", "value": -7}, "value": -4}, "labelPadding": 12, "labelFontSize": 10, "labelFlush": false, "labelAlign": "center", "labelOffset": {"condition": {"test": "datum.value < 255.6", "value": -1}, "value": 0}, "title": ["bias:\u00a0\u00a0\u00a02.597 m/s", "min:\u00a0\u00a0-5.931 m/s", "max:\u00a0\u00a021.928 m/s"], "titleX": 561, "titleY": -56, "titleAlign": "right", "titleBaseline": "top", "titleAngle": 0, "titleFontSize": 10.8, "titleLineHeight": 12, "titleColor": "#111"}},
               "y": {"field": "speed", "type": "quantitative", "scale": {"domain": [-10, 40], "nice": false, "zero": false}, "axis": {"orient": "right", "values": [-10,-8,-6,-4,-2,0,2,4,6,8,10,12,14,16,18,20,22,24,26,28,30,32,34,36,38,40], "labels": false, "tickSize": {"condition": {"test": "datum.value % 10 == 0", "value": -7}, "value": -4}, "title": "stats: M - O", "titleX": -170, "titleY": -56, "titleAlign": "right", "titleBaseline": "top", "titleAngle": 0, "titleFontSize": 10.8, "titleFontWeight": "bold", "titleColor": "#e0201e"}},
               "color": {"datum": "ADCIRC (M)", "scale": {"domain": ["ADCIRC (M)", "CO-OPS (O)"], "range": ["#2233ee", "#ee2a2a"]}, "legend": {"title": null, "orient": "bottom-right", "direction": "horizontal", "symbolType": "stroke", "symbolSize": 625, "symbolStrokeWidth": 1.8, "labelFontSize": 10.5, "labelColor": "#222", "offset": 5, "padding": 0, "columnPadding": 12, "labelOffset": 4}}
             }}
          ]
        },
        {
          "width": 541, "height": 128,
          "title": {"text": ["HSOFS 120-m Mesh: ADCIRC (PaHM - WindReduction: 0.90)", "Year:\u00a0 2018,\u00a0 Wrightsville Beach, NC"], "subtitle": "Wind Speed Comparison (Florence: hourly)", "anchor": "start", "frame": "group", "dx": -38, "dy": 35, "offset": 0, "color": "#2a2ad8", "subtitleColor": "#e0201e", "fontSize": 10.8, "subtitleFontSize": 10.8, "fontWeight": "bold", "subtitleFontWeight": "bold", "lineHeight": 12, "subtitleLineHeight": 12, "subtitlePadding": 1},
          "resolve": {"axis": {"x": "independent", "y": "independent"}},
          "layer": [
            {"data": {"values": [{}]}, "mark": {"type": "rule", "strokeDash": [5, 4], "color": "#555", "strokeWidth": 1},
             "encoding": {
               "x": {"datum": 255.5, "type": "quantitative", "scale": {"domain": [255.5, 260.5], "nice": false, "zero": false}, "axis": {"orient": "top", "labels": false, "ticks": false, "domain": false, "title": ["R²:\u00a0\u00a0\u00a0\u00a0\u00a0\u00a0\u00a0\u00a0\u00a00.53214", "rms:\u00a0\u00a0\u00a06.590 m/s", "std:\u00a0\u00a0\u00a06.585 m/s"], "titleX": 471, "titleY": -56, "titleAlign": "right", "titleBaseline": "top", "titleAngle": 0, "titleFontSize": 10.8, "titleLineHeight": 12, "titleColor": "#111"}},
               "x2": {"datum": 260.5},
               "y": {"datum": 0, "type": "quantitative", "scale": {"domain": [-10, 40], "nice": false, "zero": false}, "axis": {"orient": "left", "labels": false, "ticks": false, "domain": false, "title": ["WS12 skill:\u00a0\u00a0\u00a00.403", "NS skill:\u00a0\u00a0-0.500"], "titleX": 383, "titleY": -44, "titleAlign": "right", "titleBaseline": "top", "titleAngle": 0, "titleFontSize": 10.8, "titleLineHeight": 12, "titleColor": "#111"}}
             }},
            {"data": {"name": "obs_wri"}, "mark": {"type": "line", "strokeWidth": 1.5},
             "encoding": {
               "x": {"field": "day", "type": "quantitative", "scale": {"domain": [255.5, 260.5], "nice": false, "zero": false}, "axis": {"orient": "bottom", "values": [255.5,255.75,256,256.25,256.5,256.75,257,257.25,257.5,257.75,258,258.25,258.5,258.75,259,259.25,259.5,259.75,260,260.25,260.5], "labelExpr": "(datum.value - 255.5) % 1 == 0 ? format(datum.value, '.2f') : ''", "tickSize": {"condition": {"test": "(datum.value - 255.5) % 1 == 0", "value": -7}, "value": -4}, "labelPadding": 16, "labelFontSize": 11, "labelFlush": false, "labelAlign": "center", "title": "Day of the year (d)", "titleFontSize": 11.5, "titlePadding": 1}},
               "y": {"field": "speed", "type": "quantitative", "scale": {"domain": [-10, 40], "nice": false, "zero": false}, "axis": {"orient": "left", "values": [-10,-8,-6,-4,-2,0,2,4,6,8,10,12,14,16,18,20,22,24,26,28,30,32,34,36,38,40], "labelExpr": "datum.value % 10 == 0 ? format(datum.value, '.1f') : ''", "tickSize": {"condition": {"test": "datum.value % 10 == 0", "value": -7}, "value": -4}, "labelPadding": 14, "labelFontSize": 11, "labelFlush": false, "title": "Wind Speed (m/s)", "titleFontSize": 11.5, "titlePadding": 4}},
               "color": {"datum": "CO-OPS (O)", "scale": {"domain": ["ADCIRC (M)", "CO-OPS (O)"], "range": ["#2233ee", "#ee2a2a"]}, "legend": {"title": null, "orient": "bottom-right", "direction": "horizontal", "symbolType": "stroke", "symbolSize": 625, "symbolStrokeWidth": 1.8, "labelFontSize": 10.5, "labelColor": "#222", "offset": 5, "padding": 0, "columnPadding": 12, "labelOffset": 4}}
             }},
            {"data": {"name": "m_wri_a"}, "mark": {"type": "line", "strokeWidth": 1.5},
             "encoding": {
               "x": {"field": "day", "type": "quantitative", "scale": {"domain": [255.5, 260.5], "nice": false, "zero": false}, "axis": {"orient": "top", "values": [255.5,255.75,256,256.25,256.5,256.75,257,257.25,257.5,257.75,258,258.25,258.5,258.75,259,259.25,259.5,259.75,260,260.25,260.5], "labelExpr": "(datum.value - 255.5) % 1 == 0 ? '09/' + (13 + round(datum.value - 255.5)) + ' 12' : ''", "tickSize": {"condition": {"test": "(datum.value - 255.5) % 1 == 0", "value": -7}, "value": -4}, "labelPadding": 12, "labelFontSize": 10, "labelFlush": false, "labelAlign": "center", "labelOffset": {"condition": {"test": "datum.value < 255.6", "value": -1}, "value": 0}, "title": ["bias:\u00a0\u00a0\u00a00.651 m/s", "min:\u00a0-24.700 m/s", "max:\u00a0\u00a021.431 m/s"], "titleX": 561, "titleY": -56, "titleAlign": "right", "titleBaseline": "top", "titleAngle": 0, "titleFontSize": 10.8, "titleLineHeight": 12, "titleColor": "#111"}},
               "y": {"field": "speed", "type": "quantitative", "scale": {"domain": [-10, 40], "nice": false, "zero": false}, "axis": {"orient": "right", "values": [-10,-8,-6,-4,-2,0,2,4,6,8,10,12,14,16,18,20,22,24,26,28,30,32,34,36,38,40], "labels": false, "tickSize": {"condition": {"test": "datum.value % 10 == 0", "value": -7}, "value": -4}, "title": "stats: M - O", "titleX": -170, "titleY": -56, "titleAlign": "right", "titleBaseline": "top", "titleAngle": 0, "titleFontSize": 10.8, "titleFontWeight": "bold", "titleColor": "#e0201e"}},
               "color": {"datum": "ADCIRC (M)", "scale": {"domain": ["ADCIRC (M)", "CO-OPS (O)"], "range": ["#2233ee", "#ee2a2a"]}, "legend": {"title": null, "orient": "bottom-right", "direction": "horizontal", "symbolType": "stroke", "symbolSize": 625, "symbolStrokeWidth": 1.8, "labelFontSize": 10.5, "labelColor": "#222", "offset": 5, "padding": 0, "columnPadding": 12, "labelOffset": 4}}
             }}
          ]
        }
      ]
    }
  ]
}
